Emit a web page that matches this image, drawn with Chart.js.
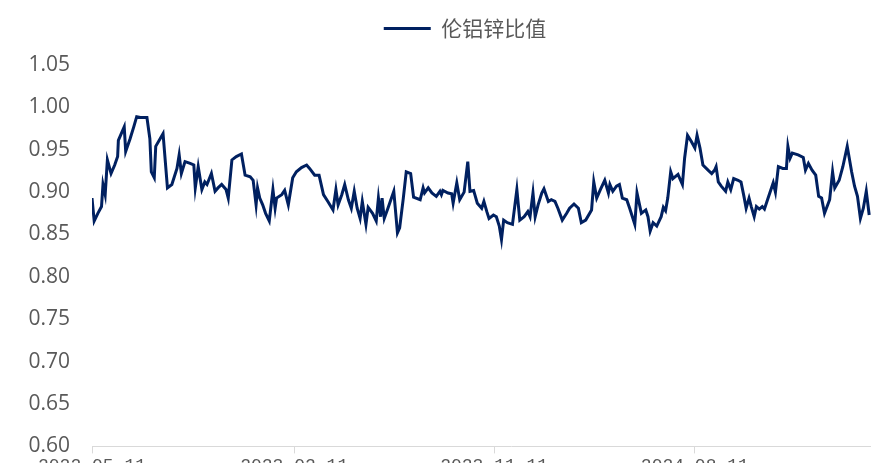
<!DOCTYPE html>
<html>
<head>
<meta charset="utf-8">
<script src="https://cdn.jsdelivr.net/npm/chart.js@4/dist/chart.umd.min.js"></script>
<style>
  html, body { margin: 0; padding: 0; background: #fff; overflow: hidden; width: 871px; height: 463px; }
  canvas { display: block; }
</style>
</head>
<body>
<canvas id="chart" width="930" height="481"></canvas>
<script>
// x axis is days counted from the first date
var startDate = '2022-05-11';
var tickLabels = ['2022-05-11', '2023-02-11', '2023-11-11', '2024-08-11'];

var days = [
  0, 3, 8, 13, 15, 18, 21, 26, 31, 35, 36, 41, 44, 46, 52, 57, 61, 66, 75, 79,
  81, 85, 87, 93, 97, 103, 109, 116, 119, 122, 127, 134, 139, 141, 145, 150, 154, 157, 163, 168,
  172, 177, 183, 186, 191, 197, 204, 209, 216, 220, 224, 226, 229, 233, 237, 242, 247, 250, 252, 259,
  263, 268, 274, 279, 286, 293, 297, 304, 310, 316, 322, 329, 333, 336, 341, 345, 350, 354, 358, 362,
  366, 369, 374, 377, 383, 388, 391, 394, 396, 399, 404, 408, 412, 417, 420, 425, 429, 435, 439, 448,
  452, 454, 459, 464, 470, 475, 477, 479, 486, 491, 493, 498, 502, 508, 513, 516, 521, 526, 532, 535,
  539, 542, 548, 552, 556, 559, 562, 567, 574, 580, 584, 590, 595, 598, 602, 605, 609, 614, 617, 623,
  627, 632, 636, 642, 648, 652, 658, 664, 668, 674, 682, 685, 689, 694, 700, 705, 707, 711, 716, 720,
  724, 730, 734, 741, 744, 750, 756, 759, 762, 766, 771, 777, 780, 783, 786, 790, 793, 800, 806, 809,
  813, 818, 823, 826, 830, 834, 841, 846, 850, 852, 855, 859, 865, 868, 872, 876, 882, 886, 890, 893,
  897, 900, 904, 907, 911, 915, 918, 923, 930, 933, 937, 943, 948, 950, 953, 956, 964, 971, 974, 978,
  983, 988, 992, 996, 1000, 1007, 1011, 1014, 1020, 1025, 1031, 1037, 1041, 1045, 1049, 1053, 1057, 1061
];

var ratio = [
  0.893, 0.866, 0.875, 0.883, 0.909, 0.897, 0.938, 0.922, 0.932, 0.942, 0.961, 0.971, 0.977, 0.948, 0.963, 0.977, 0.989, 0.988, 0.988, 0.963,
  0.924, 0.917, 0.954, 0.963, 0.969, 0.905, 0.909, 0.928, 0.944, 0.922, 0.936, 0.934, 0.932, 0.905, 0.930, 0.903, 0.912, 0.909, 0.922, 0.901,
  0.905, 0.909, 0.903, 0.893, 0.938, 0.942, 0.945, 0.920, 0.918, 0.914, 0.885, 0.905, 0.893, 0.885, 0.875, 0.866, 0.903, 0.881, 0.893, 0.897,
  0.902, 0.885, 0.917, 0.924, 0.929, 0.932, 0.928, 0.920, 0.920, 0.897, 0.889, 0.879, 0.903, 0.885, 0.897, 0.909, 0.891, 0.881, 0.901, 0.881,
  0.869, 0.889, 0.862, 0.882, 0.875, 0.866, 0.893, 0.871, 0.893, 0.869, 0.881, 0.891, 0.901, 0.852, 0.858, 0.893, 0.924, 0.922, 0.894, 0.891,
  0.905, 0.899, 0.905, 0.899, 0.895, 0.901, 0.897, 0.902, 0.899, 0.898, 0.887, 0.911, 0.891, 0.900, 0.936, 0.901, 0.902, 0.887, 0.881, 0.889,
  0.877, 0.869, 0.873, 0.871, 0.860, 0.844, 0.867, 0.864, 0.862, 0.903, 0.867, 0.871, 0.877, 0.871, 0.899, 0.871, 0.885, 0.899, 0.904, 0.889,
  0.891, 0.889, 0.881, 0.867, 0.875, 0.881, 0.886, 0.881, 0.864, 0.867, 0.879, 0.912, 0.893, 0.903, 0.914, 0.899, 0.909, 0.901, 0.907, 0.909,
  0.893, 0.891, 0.881, 0.862, 0.899, 0.875, 0.879, 0.871, 0.854, 0.864, 0.860, 0.871, 0.882, 0.878, 0.893, 0.924, 0.916, 0.921, 0.909, 0.940,
  0.967, 0.960, 0.952, 0.967, 0.952, 0.932, 0.926, 0.922, 0.926, 0.930, 0.912, 0.907, 0.901, 0.912, 0.903, 0.916, 0.914, 0.912, 0.895, 0.881,
  0.893, 0.883, 0.871, 0.883, 0.880, 0.883, 0.880, 0.893, 0.911, 0.900, 0.930, 0.928, 0.928, 0.954, 0.940, 0.946, 0.944, 0.941, 0.926, 0.934,
  0.926, 0.920, 0.895, 0.893, 0.875, 0.891, 0.924, 0.905, 0.914, 0.930, 0.954, 0.924, 0.907, 0.895, 0.869, 0.881, 0.901, 0.873
];

function dayOf(s) {
  return Math.round((Date.parse(s) - Date.parse(startDate)) / 86400000);
}
var tickDays = tickLabels.map(dayOf);

var points = [];
for (var i = 0; i < days.length; i++) {
  points.push({ x: days[i], y: ratio[i] });
}

// leave some room between the legend and the plot
var legendGap = {
  id: 'legendGap',
  beforeUpdate: function (chart) {
    var lg = chart.legend;
    if (lg && !lg._gapDone) {
      var fit = lg.fit;
      lg.fit = function () {
        fit.call(this);
        this.height += 16;
      };
      lg._gapDone = true;
    }
  }
};

var grey = '#595959';
var ctx = document.getElementById('chart').getContext('2d');
var chart = new Chart(ctx, {
  type: 'line',
  data: {
    datasets: [{
      label: '伦铝锌比值',
      data: points,
      borderColor: '#002060',
      backgroundColor: '#002060',
      borderWidth: 3,
      pointRadius: 0,
      tension: 0,
      fill: false
    }]
  },
  plugins: [legendGap],
  options: {
    responsive: false,
    animation: false,
    layout: { padding: { top: 8, left: 0, right: 0, bottom: 0 } },
    plugins: {
      tooltip: { enabled: false },
      legend: {
        position: 'top',
        labels: {
          usePointStyle: true,
          pointStyle: 'line',
          pointStyleWidth: 47,
          color: grey,
          padding: 10,
          font: { family: '"Noto Sans CJK SC", sans-serif', size: 21 }
        }
      }
    },
    scales: {
      x: {
        type: 'linear',
        min: 0,
        max: 1144,
        afterBuildTicks: function (scale) {
          scale.ticks = tickDays.map(function (d) { return { value: d }; });
        },
        grid: { display: true, drawOnChartArea: false, tickLength: 7, color: '#d9d9d9' },
        border: { display: true, color: '#d9d9d9', width: 1 },
        ticks: {
          autoSkip: false,
          maxRotation: 0,
          padding: 2,
          color: grey,
          font: { family: '"Liberation Mono", monospace', size: 18 },
          callback: function (v) {
            var k = tickDays.indexOf(v);
            return k >= 0 ? tickLabels[k] : '';
          }
        }
      },
      y: {
        min: 0.6,
        max: 1.05,
        afterFit: function (scale) { scale.width = 92; },
        grid: { display: false, drawTicks: false },
        border: { display: false },
        ticks: {
          stepSize: 0.05,
          padding: 22,
          color: grey,
          font: { family: '"Open Sans", sans-serif', size: 21 },
          callback: function (v) { return v.toFixed(2); }
        }
      }
    }
  }
});
</script>
</body>
</html>
